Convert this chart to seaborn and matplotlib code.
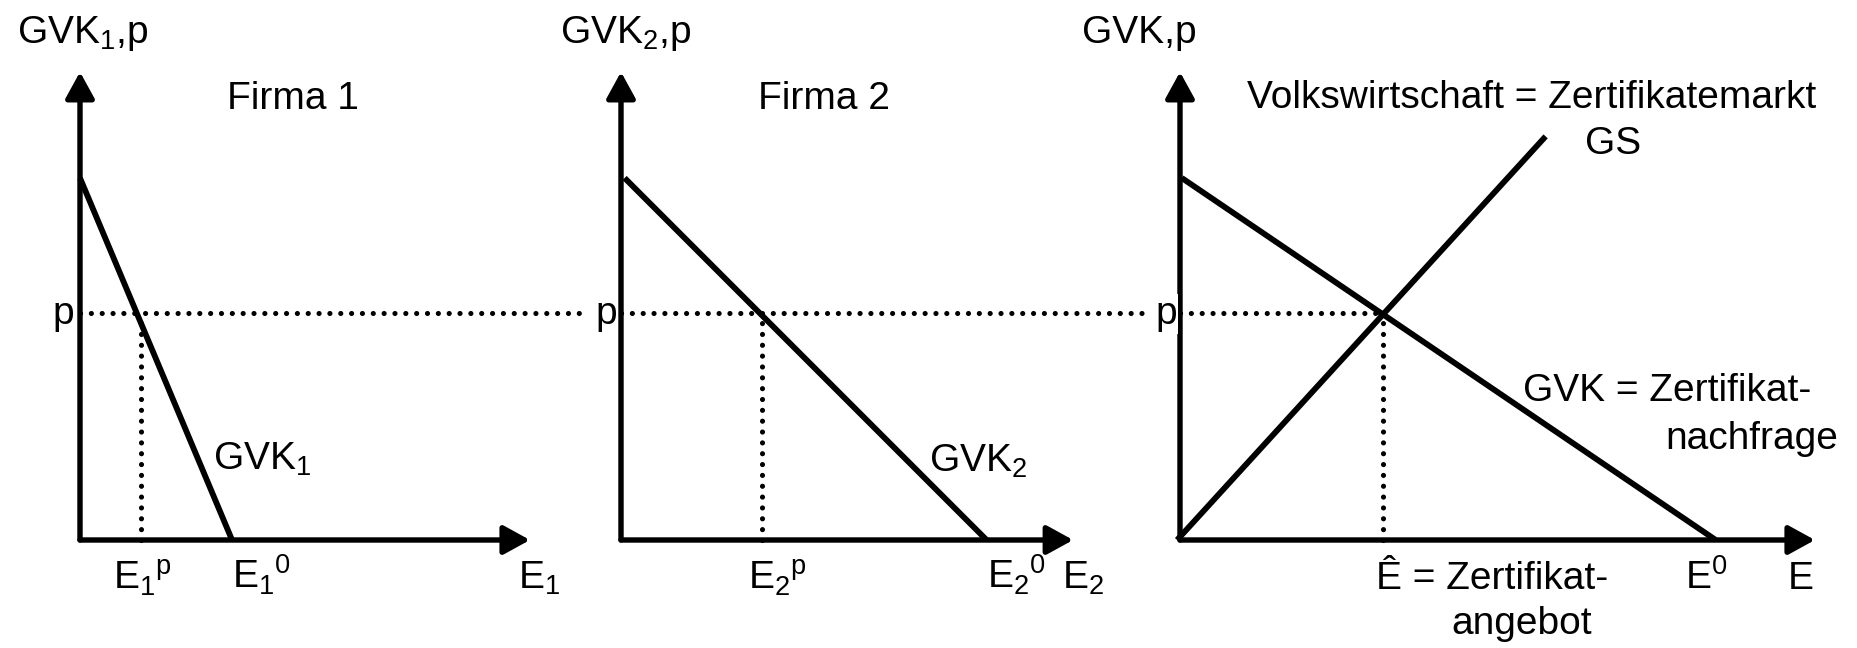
import numpy as np
import pandas as pd
import seaborn as sns
import matplotlib.pyplot as plt

sns.set_style("white")
plt.rcParams['font.family'] = ['Liberation Sans', 'DejaVu Sans']
plt.rcParams['mathtext.fontset'] = 'custom'
plt.rcParams['mathtext.rm'] = 'Liberation Sans'
plt.rcParams['mathtext.default'] = 'regular'

# values (price axis: curve intercept = 10)
p = 6.27
gvk1_x = [0.0, 4.2]
gvk1_y = [10.0, 0.0]
gvk2_x = [0.1, 10.1]
gvk2_y = [10.0, 0.0]
gvk_x = [0.05, 14.8]
gvk_y = [10.0, 0.0]
gs_x = [-0.08, 10.1]
gs_y = [0.0, 11.15]
e_p = [1.68, 3.9, 5.6]   # E1^p, E2^p, E-hat

# layout (pixels)
W, H = 1857, 648
S = 36.2                 # px per unit
ox = [80, 621, 1180]     # origins of the three panels
oy = 540
bounds = [(0, 541), (541, 1100), (1100, W)]
x_end = [12.43, 12.49, 17.54]
y_end = 12.93

fig = plt.figure(figsize=(W / 100, H / 100), dpi=100)

def make_panel(o, left, right):
    ax = fig.add_axes([left / W, 0, (right - left) / W, 1])
    ax.set_xlim((left - o) / S, (right - o) / S)
    ax.set_ylim(-(H - oy) / S, oy / S)
    ax.axis('off')
    return ax

axes = [make_panel(o, l, r) for o, (l, r) in zip(ox, bounds)]

solid = dict(color='black', lw=4.2, estimator=None, sort=False, legend=False,
             solid_capstyle='butt')
dotted = dict(color='black', lw=3.7, linestyle=(0, (0.01, 2.1)),
              dash_capstyle='round', estimator=None, sort=False,
              legend=False, clip_on=False)

def axes_arrows(ax, xe):
    ap = dict(arrowstyle='-|>,head_length=0.4,head_width=0.22', mutation_scale=40,
              lw=3.9, color='black', shrinkA=0, shrinkB=0)
    ax.annotate('', xy=(0, y_end), xytext=(0, 0), arrowprops=ap, annotation_clip=False)
    ax.annotate('', xy=(xe, 0), xytext=(0, 0), arrowprops=ap, annotation_clip=False)

# p line reaches over to the next panel's "p" label
p_reach = [(595 - 8 - ox[0]) / S, (1155 - 8 - ox[1]) / S, e_p[2]]

curves = [[(gvk1_x, gvk1_y)], [(gvk2_x, gvk2_y)], [(gvk_x, gvk_y), (gs_x, gs_y)]]
for i, ax in enumerate(axes):
    sns.lineplot(x=[0, p_reach[i]], y=[p, p], ax=ax, **dotted)
    sns.lineplot(x=[e_p[i], e_p[i]], y=[0, p], ax=ax, **dotted)
    for cx, cy in curves[i]:
        sns.lineplot(x=cx, y=cy, ax=ax, **solid)
    axes_arrows(ax, x_end[i])

# text layer in pixel coordinates
tx = fig.add_axes([0, 0, 1, 1])
tx.set_xlim(0, W)
tx.set_ylim(H, 0)
tx.axis('off')

def label(x, y, s, ha='left', bg=False):
    kw = {}
    if bg:
        kw['bbox'] = dict(facecolor='white', edgecolor='none', pad=1)
    tx.text(x, y, s, ha=ha, va='baseline', fontsize=28, color='black', **kw)

label(17, 43, 'GVK$_1$,p')
label(560, 43, 'GVK$_2$,p')
label(1082, 43, 'GVK,p')
label(227, 109, 'Firma 1')
label(758, 109, 'Firma 2')
label(1247, 108, 'Volkswirtschaft = Zertifikatemarkt')
label(1585, 154, 'GS')
label(213, 470, 'GVK$_1$')
label(929, 472, 'GVK$_2$')
label(1523, 401, 'GVK = Zertifikat-')
label(1838, 449, 'nachfrage', ha='right')
label(52, 324, 'p', bg=True)
label(595, 324, 'p', bg=True)
label(1155, 324, 'p', bg=True)
label(113, 589, 'E$_1{}^p$')
label(232, 589, 'E$_1{}^0$')
label(518, 589, 'E$_1$')
label(748, 589, 'E$_2{}^p$')
label(987, 589, 'E$_2{}^0$')
label(1062, 589, 'E$_2$')
label(1376, 589, 'Ê = Zertifikat-')
label(1451, 634, 'angebot')
label(1685, 589, 'E$^0$')
label(1788, 589, 'E')

fig.savefig('out.png', dpi=100)
